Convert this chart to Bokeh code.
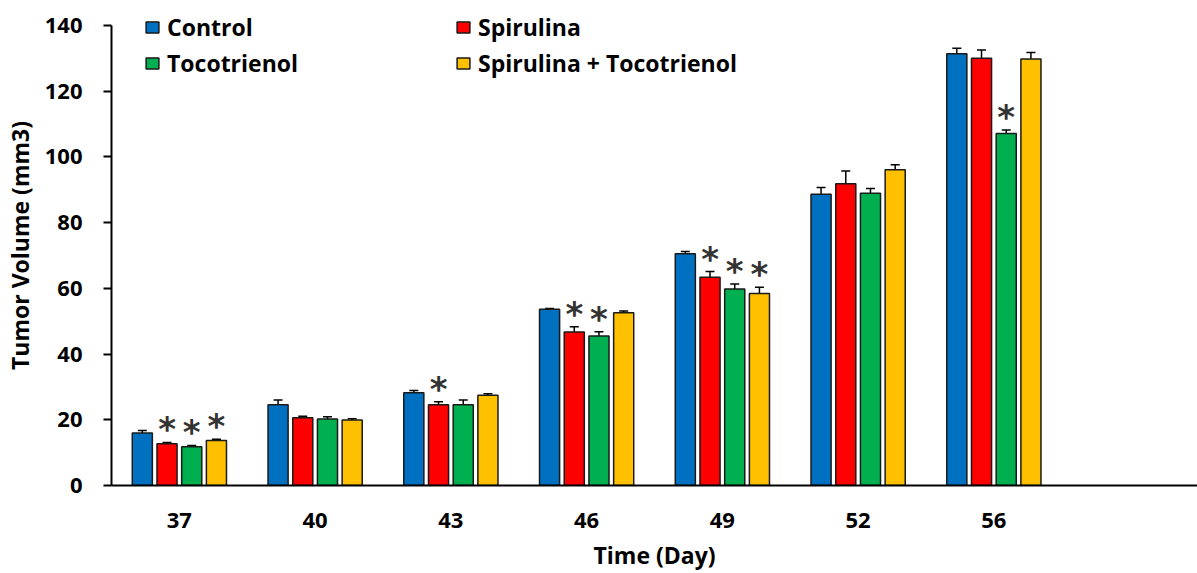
from bokeh.plotting import figure
from bokeh.models import ColumnDataSource, Range1d, FixedTicker, Whisker, TeeHead, Legend, LegendItem
from bokeh.core.properties import value
from bokeh.embed import file_html
from bokeh.resources import INLINE

days = ["37", "40", "43", "46", "49", "52", "56"]
series_names = ["Control", "Spirulina", "Tocotrienol", "Spirulina + Tocotrienol"]
colors = ["#0070C0", "#FF0000", "#00B050", "#FFC000"]

control = [16.0, 24.6, 28.2, 53.6, 70.5, 88.6, 131.4]
control_err = [0.7, 1.4, 0.7, 0.3, 0.7, 2.1, 1.7]
spirulina = [12.7, 20.6, 24.6, 46.7, 63.4, 91.8, 130.0]
spirulina_err = [0.4, 0.5, 0.9, 1.6, 1.7, 3.9, 2.5]
tocotrienol = [11.8, 20.2, 24.6, 45.5, 59.8, 88.9, 107.1]
tocotrienol_err = [0.4, 0.7, 1.4, 1.3, 1.5, 1.5, 1.1]
combo = [13.7, 19.9, 27.5, 52.6, 58.4, 96.1, 129.8]
combo_err = [0.4, 0.4, 0.4, 0.5, 1.9, 1.5, 2.0]

sig_control = [0, 0, 0, 0, 0, 0, 0]
sig_spirulina = [1, 0, 1, 1, 1, 0, 0]
sig_tocotrienol = [1, 0, 0, 1, 1, 0, 1]
sig_combo = [1, 0, 0, 0, 1, 0, 0]

values = [control, spirulina, tocotrienol, combo]
errors = [control_err, spirulina_err, tocotrienol_err, combo_err]
sigs = [sig_control, sig_spirulina, sig_tocotrienol, sig_combo]

FONT = "Open Sans"
W, H = 1197, 573
BL, BT, BB = 111, 5, 87
frame_h = H - BT - BB
px_per_unit = (486 - 25) / 140.0
y_end = frame_h / px_per_unit
n_span = 8

p = figure(width=W, height=H, output_backend="svg", toolbar_location=None,
           x_range=Range1d(0, n_span), y_range=Range1d(0, y_end),
           min_border_left=BL, min_border_top=BT, min_border_bottom=BB, min_border_right=0)
p.outline_line_color = None
p.grid.visible = False

pitch = 0.182
bw = 0.148
offsets = [-1.5 * pitch, -0.5 * pitch, 0.5 * pitch, 1.5 * pitch]

legend_items = []
for vals, errs, sg, name, col, off in zip(values, errors, sigs, series_names, colors, offsets):
    xs = [i + 0.5 + off for i in range(len(days))]
    src = ColumnDataSource(dict(x=xs, top=vals,
                                upper=[v + e for v, e in zip(vals, errs)],
                                lower=[v - e for v, e in zip(vals, errs)]))
    r = p.vbar(x="x", top="top", bottom=0, width=bw, source=src,
               fill_color=col, line_color="#1a1a1a", line_width=1.5)
    legend_items.append(LegendItem(label=name, renderers=[r]))
    w = Whisker(base="x", upper="upper", lower="lower", source=src,
                line_color="black", line_width=1.5,
                upper_head=TeeHead(size=9, line_color="black", line_width=1.5),
                lower_head=TeeHead(size=9, line_color="black", line_width=1.5))
    p.add_layout(w)
    sx = [x for x, s in zip(xs, sg) if s]
    sy = [v + e for v, e, s in zip(vals, errs, sg) if s]
    if sx:
        p.text(x=sx, y=sy, text=["*"] * len(sx), text_align="center", text_baseline="middle",
               y_offset=-13, text_font=value("DejaVu Sans"), text_font_style="bold",
               text_font_size="34px", text_color="#333333")

# axes
p.xaxis.ticker = FixedTicker(ticks=[i + 0.5 for i in range(len(days))])
p.xaxis.major_label_overrides = {i + 0.5: d for i, d in enumerate(days)}
p.xaxis.major_tick_out = 0
p.xaxis.major_tick_in = 0
p.xaxis.minor_tick_out = 0
p.xaxis.minor_tick_in = 0
p.xaxis.major_label_standoff = 27
p.xaxis.axis_label = "Time (Day)"
p.xaxis.axis_label_standoff = 8

p.yaxis.ticker = FixedTicker(ticks=[0, 20, 40, 60, 80, 100, 120, 140])
p.yaxis.bounds = (0, 140)
p.yaxis.major_tick_out = 8
p.yaxis.major_tick_in = 0
p.yaxis.minor_tick_out = 0
p.yaxis.minor_tick_in = 0
p.yaxis.major_label_standoff = 21
p.yaxis.axis_label = "Tumor Volume (mm3)"
p.yaxis.axis_label_standoff = 6

for ax in (p.xaxis[0], p.yaxis[0]):
    ax.axis_line_color = "black"
    ax.axis_line_width = 2
    ax.major_tick_line_color = "black"
    ax.major_tick_line_width = 2
    ax.major_label_text_font = FONT
    ax.major_label_text_font_style = "bold"
    ax.major_label_text_font_size = "22px"
    ax.major_label_text_color = "black"
    ax.axis_label_text_font = FONT
    ax.axis_label_text_font_style = "bold"
    ax.axis_label_text_font_size = "23px"
    ax.axis_label_text_color = "black"

def make_legend(items, loc):
    lg = Legend(items=items, location=loc, orientation="vertical",
                border_line_color=None, background_fill_alpha=0,
                padding=0, margin=0, spacing=4,
                glyph_width=16, glyph_height=14, label_height=21, label_standoff=7,
                label_text_font=FONT, label_text_font_style="bold",
                label_text_font_size="23px", label_text_color="black")
    p.add_layout(lg, "center")
    return lg

make_legend([legend_items[0], legend_items[2]], (33, 406))
make_legend([legend_items[1], legend_items[3]], (344, 406))

open("out.html", "w").write(file_html(p, INLINE))
